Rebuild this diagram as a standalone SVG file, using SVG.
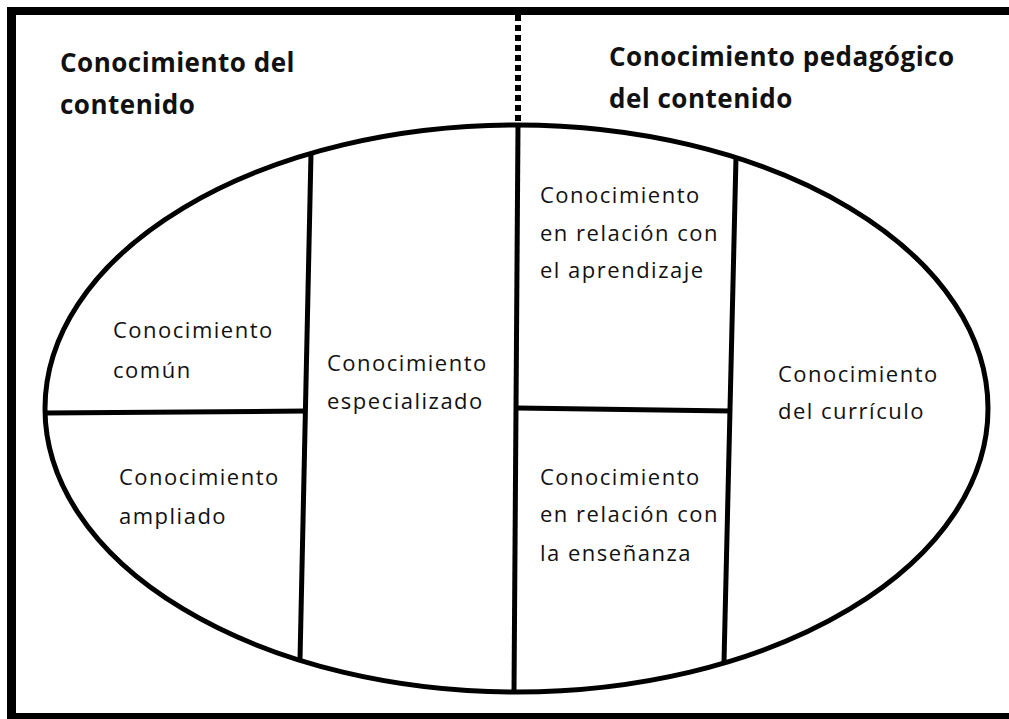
<svg xmlns="http://www.w3.org/2000/svg" width="1009" height="719" viewBox="0 0 1009 719">
<style>
.t{font-family:"Open Sans","DejaVu Sans",sans-serif;font-weight:bold;font-size:26px;letter-spacing:0.5px;fill:#111}
.b{font-family:"Open Sans","DejaVu Sans",sans-serif;font-size:22px;letter-spacing:1.5px;fill:#111}
.ln{stroke:#000;stroke-width:5;fill:none;stroke-linecap:butt}
</style>
<rect width="1009" height="719" fill="#fff"/>
<g id="frame">
<rect x="7" y="7" width="1002" height="8" fill="#000"/>
<rect x="7" y="7" width="9" height="712" fill="#000"/>
<rect x="7" y="713" width="1002" height="6" fill="#000"/>
</g>
<g id="connectors">
<line x1="518" y1="15" x2="518" y2="125" stroke="#000" stroke-width="6" stroke-dasharray="6 4"/>
<ellipse cx="516.5" cy="408.5" rx="471.5" ry="283.5" class="ln"/>
<line class="ln" x1="311" y1="153" x2="300" y2="660"/>
<line class="ln" x1="518" y1="125" x2="514" y2="692"/>
<line class="ln" x1="736" y1="157" x2="724" y2="662"/>
<line class="ln" x1="45" y1="413" x2="306" y2="411"/>
<line class="ln" x1="517" y1="408" x2="731" y2="411"/>
</g>
<g id="title-left"><text class="t" x="60" y="72">Conocimiento del</text><text class="t" x="60" y="114">contenido</text></g>
<g id="title-right"><text class="t" x="609" y="66">Conocimiento pedagógico</text><text class="t" x="609" y="108">del contenido</text></g>
<g id="comun"><text class="b" x="113" y="338">Conocimiento</text><text class="b" x="113" y="378">común</text></g>
<g id="ampliado"><text class="b" x="119" y="485">Conocimiento</text><text class="b" x="119" y="524">ampliado</text></g>
<g id="especializado"><text class="b" x="327" y="371">Conocimiento</text><text class="b" x="327" y="409">especializado</text></g>
<g id="aprendizaje"><text class="b" x="540" y="203">Conocimiento</text><text class="b" x="540" y="241">en relación con</text><text class="b" x="540" y="278">el aprendizaje</text></g>
<g id="ensenanza"><text class="b" x="540" y="485">Conocimiento</text><text class="b" x="540" y="522">en relación con</text><text class="b" x="540" y="561">la enseñanza</text></g>
<g id="curriculo"><text class="b" x="778" y="382">Conocimiento</text><text class="b" x="778" y="419">del currículo</text></g>
</svg>
